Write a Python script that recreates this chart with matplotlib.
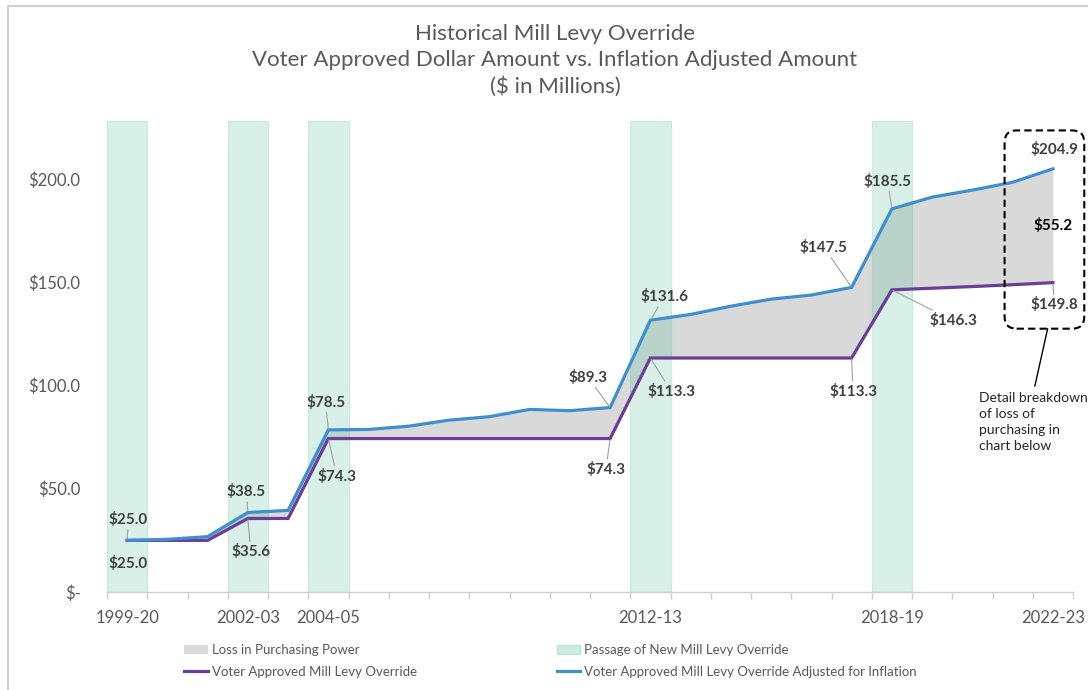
import matplotlib
matplotlib.use("Agg")
import matplotlib.pyplot as plt
from matplotlib.patches import Patch, FancyBboxPatch
from matplotlib.lines import Line2D
import numpy as np

plt.rcParams['font.family'] = ['Lato', 'DejaVu Sans']

# ---- data ----
school_years = ['1999-20', '2000-01', '2001-02', '2002-03', '2003-04', '2004-05',
                '2005-06', '2006-07', '2007-08', '2008-09', '2009-10', '2010-11',
                '2011-12', '2012-13', '2013-14', '2014-15', '2015-16', '2016-17',
                '2017-18', '2018-19', '2019-20', '2020-21', '2021-22', '2022-23']
shown_years = ['1999-20', '2002-03', '2004-05', '2012-13', '2018-19', '2022-23']

voter_approved = [25.0, 25.0, 25.0, 35.6, 35.6, 74.3, 74.3, 74.3, 74.3, 74.3, 74.3, 74.3,
                  74.3, 113.3, 113.3, 113.3, 113.3, 113.3, 113.3, 146.3, 147.1, 147.9,
                  148.8, 149.8]
inflation_adj = [25.0, 25.5, 26.8, 38.5, 39.5, 78.5, 78.7, 80.3, 83.2, 84.9, 88.4, 87.8,
                 89.3, 131.6, 134.4, 138.4, 141.8, 143.8, 147.5, 185.5, 191.2, 194.6,
                 198.4, 204.9]
loss_last_year = 55.2   # as printed in the source (unrounded values)

passage_years = ['1999-20', '2002-03', '2004-05', '2012-13', '2018-19']
passage_height = 228

labelled_adj = ['1999-20', '2002-03', '2004-05', '2011-12', '2012-13', '2017-18', '2018-19', '2022-23']
labelled_voter = ['1999-20', '2002-03', '2004-05', '2011-12', '2012-13', '2017-18', '2018-19', '2022-23']

# ---- styles / layout ----
BLUE = '#3f8fd0'
PURPLE = '#6a3d96'
GREY_FILL = '#d9d9d9'
BAND = '#3cb88f'
TEXT = '#595959'
LABEL = '#404040'

# label offsets in points (dx, dy) and whether a leader line is drawn
adj_offsets = {'1999-20': (1, 15, True), '2002-03': (-1, 15, True), '2004-05': (-2, 20, True),
               '2011-12': (-16, 22, True), '2012-13': (10, 17, True), '2017-18': (-20, 29, True),
               '2018-19': (-3, 20, True), '2022-23': (1, 14, False)}
voter_offsets = {'1999-20': (1, -17, False), '2002-03': (2, -24, True), '2004-05': (6, -27, True),
                 '2011-12': (-3, -22, True), '2012-13': (15, -24, True), '2017-18': (1, -24, True),
                 '2018-19': (44, -22, True), '2022-23': (1, -16, True)}

x = np.arange(len(school_years))
va_ = np.array(voter_approved)
ia_ = np.array(inflation_adj)

fig = plt.figure(figsize=(10.88, 6.90), dpi=100)
ax = fig.add_axes([107 / 1088, 98 / 690, 966 / 1088, 475 / 690])

# loss in purchasing power
ax.fill_between(x, va_, ia_, color=GREY_FILL, lw=0, zorder=1)

# passage bands
band_x = [school_years.index(y) for y in passage_years]
ax.bar(band_x, [passage_height] * len(band_x), width=1.0, color=BAND, alpha=0.2,
       edgecolor=BAND, linewidth=0.8, zorder=2)

ax.plot(x, va_, color=PURPLE, lw=2.3, zorder=4, solid_joinstyle='miter')
ax.plot(x, ia_, color=BLUE, lw=2.3, zorder=5, solid_joinstyle='miter')

ax.set_xlim(-0.5, len(school_years) - 0.5)
ax.set_ylim(0, 230)

for s in ['top', 'right', 'left']:
    ax.spines[s].set_visible(False)
ax.spines['bottom'].set_color('#d0d0d0')
ax.spines['bottom'].set_linewidth(1.0)

ax.set_xticks(np.arange(-0.5, len(school_years)), labels=[])
ax.tick_params(axis='x', which='major', length=5, color='#d0d0d0', width=1.0)
ax.set_xticks([school_years.index(y) for y in shown_years], labels=shown_years, minor=True)
ax.tick_params(axis='x', which='minor', length=0, pad=13, labelsize=12, labelcolor=TEXT)

yt = [0, 50, 100, 150, 200]
ax.set_yticks(yt, labels=['$-'] + ['${:.1f}'.format(v) for v in yt[1:]])
ax.tick_params(axis='y', length=0, pad=19, labelsize=12, labelcolor=TEXT)


def label(series, offsets, year):
    i = school_years.index(year)
    dx, dy, leader = offsets[year]
    ap = dict(arrowstyle='-', color='#a0a0a0', lw=0.8, shrinkA=0, shrinkB=1) if leader else None
    ax.annotate('${:.1f}'.format(series[i]), xy=(i, series[i]), xytext=(dx, dy),
                textcoords='offset points', ha='center', va='center', fontsize=11,
                fontweight='bold', color=LABEL, arrowprops=ap, zorder=6)


for yr in labelled_adj:
    label(inflation_adj, adj_offsets, yr)
for yr in labelled_voter:
    label(voter_approved, voter_offsets, yr)

last = len(school_years) - 1
ax.text(last, (inflation_adj[last] + voter_approved[last]) / 2,
        '${:.1f}'.format(loss_last_year),
        ha='center', va='center', fontsize=11, fontweight='bold', color='black', zorder=6)

# dashed callout box around last year
fig.canvas.draw()
p0 = ax.transData.transform((0, 0))
p1 = ax.transData.transform((1, 1))
aspect = (p1[0] - p0[0]) / (p1[1] - p0[1])
box = FancyBboxPatch((last - 1.2, 127.5), 1.98, 96, boxstyle='round,pad=0,rounding_size=0.3',
                     mutation_aspect=aspect, fill=False, edgecolor='black', linewidth=1.5,
                     linestyle=(0, (3.5, 2)), transform=ax.transData, clip_on=False, zorder=7)
ax.add_patch(box)
ax.annotate('Detail breakdown\nof loss of\npurchasing in\nchart below',
            xy=(last - 0.13, 127.5), xytext=(last - 1.83, 97),
            ha='left', va='top', fontsize=10, color='#262626', linespacing=1.4,
            arrowprops=dict(arrowstyle='-', color='black', lw=1.0, relpos=(0.5, 1.0),
                            shrinkA=2, shrinkB=0),
            annotation_clip=False, zorder=7)

# title
fig.text(0.51, 1 - 24 / 690, 'Historical Mill Levy Override\n'
         'Voter Approved Dollar Amount vs. Inflation Adjusted Amount\n($ in Millions)',
         ha='center', va='top', fontsize=16, color=TEXT, linespacing=1.36)

# legend
handles = [Patch(facecolor=GREY_FILL, edgecolor='none', label='Loss in Purchasing Power'),
           Line2D([], [], color=PURPLE, lw=2.3, label='Voter Approved Mill Levy Override'),
           Patch(facecolor=BAND, alpha=0.25, edgecolor=BAND, label='Passage of New Mill Levy Override'),
           Line2D([], [], color=BLUE, lw=2.3,
                  label='Voter Approved Mill Levy Override Adjusted for Inflation')]
fig.legend(handles=handles, ncol=2, loc='upper left', bbox_to_anchor=(172 / 1088, 1 - 632 / 690),
           frameon=False, fontsize=9.5, labelcolor=TEXT, columnspacing=10.6,
           handlelength=1.8, handletextpad=0.3, labelspacing=0.75)

# chart border
fig.add_artist(Line2D([8 / 1088, 1], [1 - 6 / 690] * 2, color='#d0d0d0', lw=1.5, transform=fig.transFigure))
fig.add_artist(Line2D([8 / 1088] * 2, [0, 1 - 6 / 690], color='#d0d0d0', lw=1.5, transform=fig.transFigure))

fig.savefig('out.png', dpi=100)
